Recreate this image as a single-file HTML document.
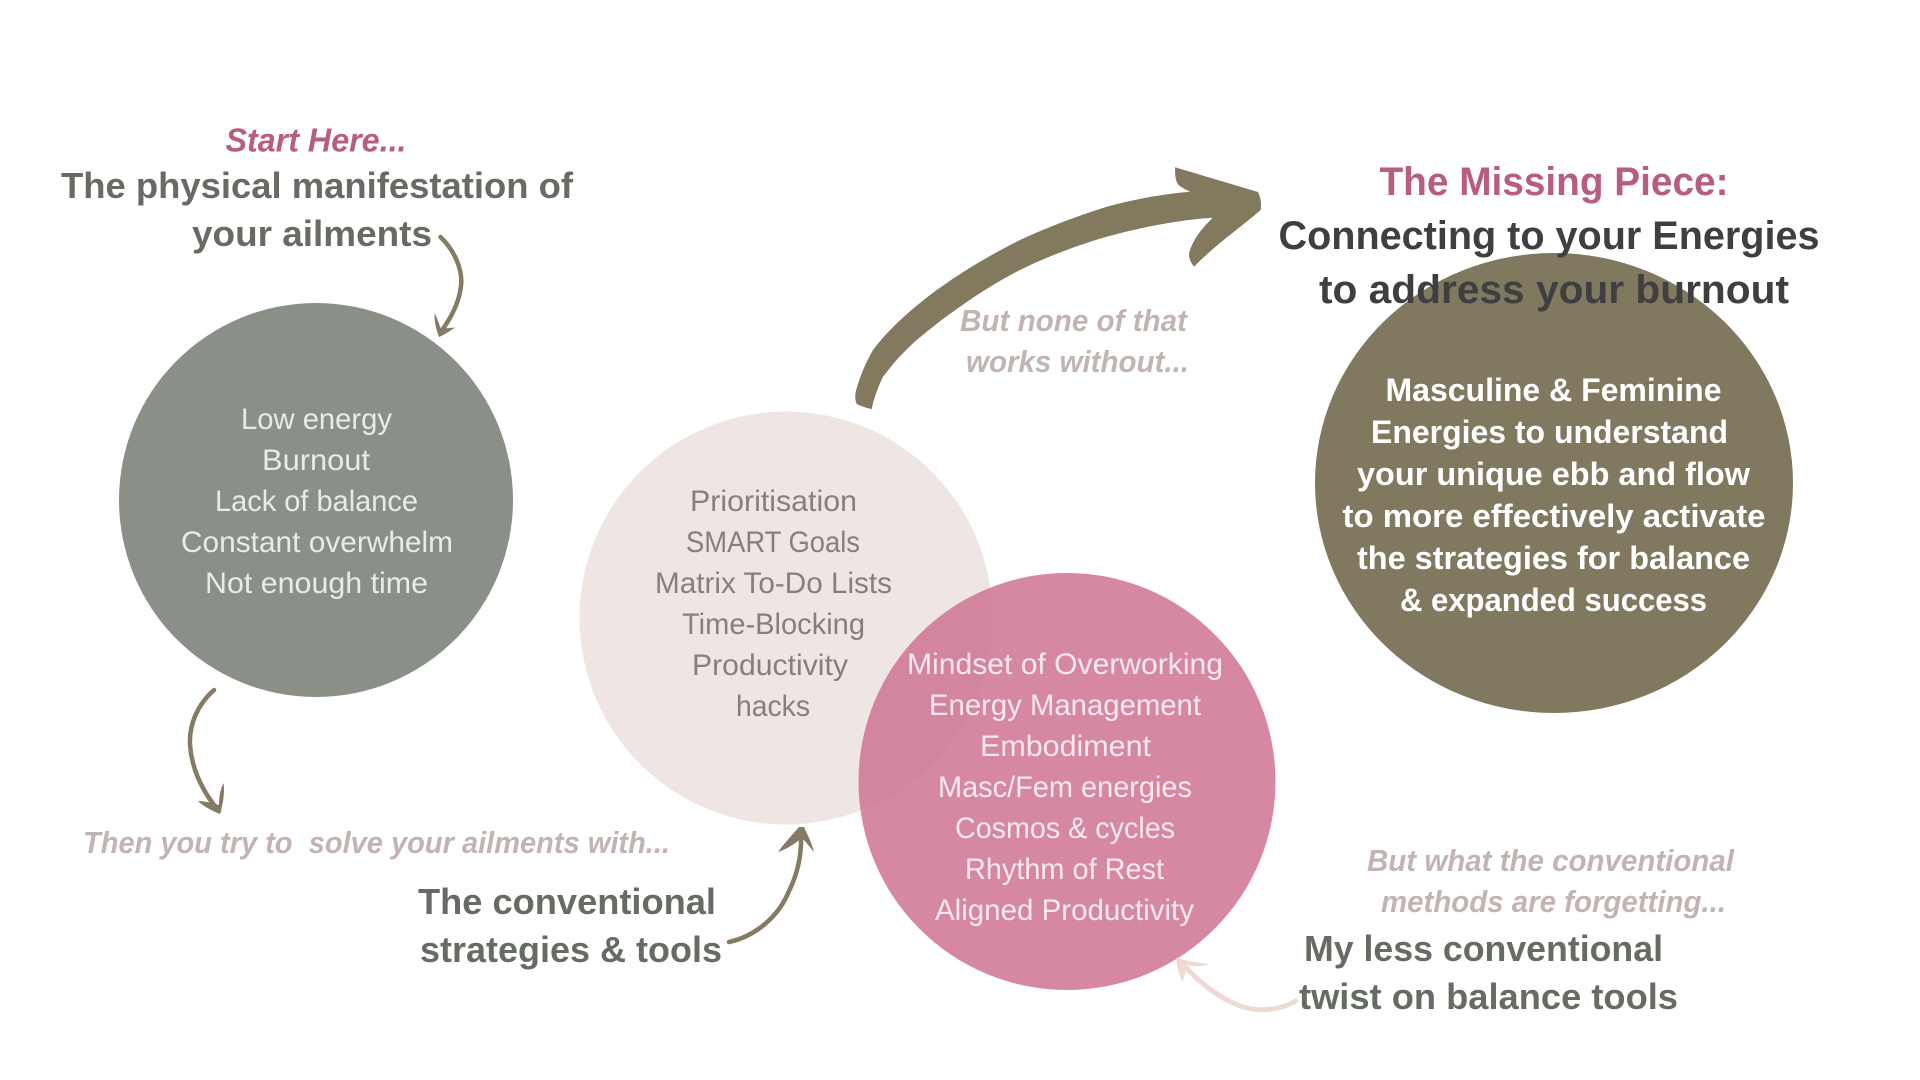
<!DOCTYPE html>
<html><head><meta charset="utf-8"><style>
html,body{margin:0;padding:0;background:#fff;width:1920px;height:1080px;overflow:hidden}
svg{display:block}
text{font-family:"Liberation Sans",sans-serif;text-anchor:start}
.i{font-weight:bold;font-style:italic}
.h{font-size:36px;font-weight:bold;fill:#666c63}
.n{font-size:31px;font-weight:bold;font-style:italic;fill:#c1b4b3}
.w{font-size:30px;fill:#fff;opacity:.82}
.g{font-size:30px;fill:#77726f;opacity:.88}
.m{font-size:32px;font-weight:bold;fill:#fff}
.t{font-size:40px;font-weight:bold;fill:#3f3f3f}
.a{fill:none;stroke:#857b64;stroke-width:4.5;stroke-linecap:round;stroke-linejoin:round}
</style></head><body>
<svg width="1920" height="1080" viewBox="0 0 1920 1080" xmlns="http://www.w3.org/2000/svg">
<rect width="1920" height="1080" fill="#fff"/>
<circle cx="316" cy="500" r="197" fill="#8a8f88"/>
<circle cx="786" cy="618" r="206.5" fill="#efe6e4"/>
<ellipse cx="1554" cy="483" rx="239" ry="230" fill="#817860"/>
<text class="g" x="690" y="511" textLength="167" lengthAdjust="spacingAndGlyphs">Prioritisation</text>
<text class="g" x="686" y="552" textLength="174" lengthAdjust="spacingAndGlyphs">SMART Goals</text>
<text class="g" x="655" y="593" textLength="237" lengthAdjust="spacingAndGlyphs">Matrix To-Do Lists</text>
<text class="g" x="682" y="634" textLength="183" lengthAdjust="spacingAndGlyphs">Time-Blocking</text>
<text class="g" x="692" y="675" textLength="156" lengthAdjust="spacingAndGlyphs">Productivity</text>
<text class="g" x="736" y="716" textLength="74" lengthAdjust="spacingAndGlyphs">hacks</text>
<circle cx="1067" cy="781.5" r="208.5" fill="rgb(206,114,147)" fill-opacity=".85"/>

<!-- big arrow -->
<path fill="#82795f" d="M1175 167.3 L1258 192 C1261 198 1261.5 204 1260.7 210 C1240 228 1215 245 1194 266.7 C1189 260 1188 255 1190 250 C1194 238 1203 227 1212.7 217.7 C1178 220 1142 227 1106.7 236.7 C1078 245 1052 255 1026.7 266.7 C1003 278 981 292 960 306.7 C945 317 931 328 916.7 340 C902 353 892 365 883 376.7 C878 387 874 398 871.7 409 C866 408 861 406 856.7 404 C855 400 855 396 855.7 391.7 C860 376 866 362 873 350 C888 330 908 312 930 295 C958 274 988 256 1020 240 C1048 227 1077 216 1106.7 206.7 C1135 199 1163 194 1190 191.7 C1183 188 1178 186 1176.7 181.7 C1175 177 1175 172 1175 167.3 Z"/>

<!-- small arrows -->
<path class="a" stroke-width="4" d="M440.5 237 C454 250 463 269 461 286 C459 304 449 321 440 333"/>
<path fill="#857b64" d="M434.5 313 C437 318 439 324 441 329 C445 328 451 328 455 327.5 C450 331 444 335 439 337 C436 329 434 320 434.5 313Z"/>
<path class="a" d="M214 690 C197 705 189 725 190 745 C192 772 205 795 219 811"/>
<path fill="#857b64" d="M223.5 783 C220 790 219 798 219 805 C212 803 205 801 198 801 C203 806 212 811 220 814 C223 804 225 792 223.5 783Z"/>
<path class="a" d="M729 942 C756 936 779 916 789 891 C799 871 802 851 801 831"/>
<path fill="#857b64" d="M778 852 C786 841 794 833 799 827 L804 827 C808 836 812 843 814 852 C809 846 805 841 802 838 C796 843 787 849 778 852Z"/>
<path fill="none" stroke="#efd9d5" stroke-width="5" stroke-linecap="round" d="M1296 1001 C1278 1011 1258 1012 1240 1006 C1215 996 1197 980 1181 962"/>
<path fill="#efd9d5" d="M1209.5 964 C1198 963 1187 961 1176.5 957.5 C1176 966 1179 975 1182.5 981.5 C1185 976 1186 970 1185 964 C1192 967 1202 967 1209.5 964Z"/>

<!-- headings -->
<text class="i" font-size="33" fill="#b85d82" x="225.5" y="151.5" textLength="181" lengthAdjust="spacingAndGlyphs">Start Here...</text>
<text class="h" x="61" y="198" textLength="512" lengthAdjust="spacingAndGlyphs">The physical manifestation of</text>
<text class="h" x="192" y="246" textLength="240" lengthAdjust="spacingAndGlyphs">your ailments</text>

<text class="w" x="241" y="429" textLength="151" lengthAdjust="spacingAndGlyphs">Low energy</text>
<text class="w" x="262" y="470" textLength="108" lengthAdjust="spacingAndGlyphs">Burnout</text>
<text class="w" x="215" y="511" textLength="203" lengthAdjust="spacingAndGlyphs">Lack of balance</text>
<text class="w" x="181" y="552" textLength="272" lengthAdjust="spacingAndGlyphs">Constant overwhelm</text>
<text class="w" x="205" y="593" textLength="223" lengthAdjust="spacingAndGlyphs">Not enough time</text>

<text class="w" x="907" y="674" textLength="316" lengthAdjust="spacingAndGlyphs">Mindset of Overworking</text>
<text class="w" x="929" y="715" textLength="272" lengthAdjust="spacingAndGlyphs">Energy Management</text>
<text class="w" x="980" y="756" textLength="171" lengthAdjust="spacingAndGlyphs">Embodiment</text>
<text class="w" x="938" y="797" textLength="254" lengthAdjust="spacingAndGlyphs">Masc/Fem energies</text>
<text class="w" x="955" y="838" textLength="220" lengthAdjust="spacingAndGlyphs">Cosmos &amp; cycles</text>
<text class="w" x="965" y="879" textLength="199" lengthAdjust="spacingAndGlyphs">Rhythm of Rest</text>
<text class="w" x="935" y="920" textLength="259" lengthAdjust="spacingAndGlyphs">Aligned Productivity</text>

<text class="n" x="83" y="853" textLength="587" lengthAdjust="spacingAndGlyphs">Then you try to&#160; solve your ailments with...</text>
<text class="h" x="418" y="914" textLength="298" lengthAdjust="spacingAndGlyphs">The conventional</text>
<text class="h" x="420" y="962" textLength="302" lengthAdjust="spacingAndGlyphs">strategies &amp; tools</text>

<text class="n" x="960" y="331" textLength="227" lengthAdjust="spacingAndGlyphs">But none of that</text>
<text class="n" x="966" y="372" textLength="223" lengthAdjust="spacingAndGlyphs">works without...</text>

<text class="t" style="fill:#b85d82" x="1379.5" y="195" textLength="349" lengthAdjust="spacingAndGlyphs">The Missing Piece:</text>
<text class="t" x="1278.5" y="249" textLength="541" lengthAdjust="spacingAndGlyphs">Connecting to your Energies</text>
<text class="t" x="1319" y="303" textLength="470" lengthAdjust="spacingAndGlyphs">to address your burnout</text>

<text class="m" x="1385.5" y="401" textLength="336" lengthAdjust="spacingAndGlyphs">Masculine &amp; Feminine</text>
<text class="m" x="1371" y="443" textLength="357" lengthAdjust="spacingAndGlyphs">Energies to understand</text>
<text class="m" x="1357" y="485" textLength="393" lengthAdjust="spacingAndGlyphs">your unique ebb and flow</text>
<text class="m" x="1342.5" y="527" textLength="423" lengthAdjust="spacingAndGlyphs">to more effectively activate</text>
<text class="m" x="1357" y="569" textLength="393" lengthAdjust="spacingAndGlyphs">the strategies for balance</text>
<text class="m" x="1400" y="611" textLength="307" lengthAdjust="spacingAndGlyphs">&amp; expanded success</text>

<text class="n" x="1367" y="871" textLength="367" lengthAdjust="spacingAndGlyphs">But what the conventional</text>
<text class="n" x="1381" y="912" textLength="345" lengthAdjust="spacingAndGlyphs">methods are forgetting...</text>
<text class="h" x="1304" y="961" textLength="359" lengthAdjust="spacingAndGlyphs">My less conventional</text>
<text class="h" x="1299" y="1009" textLength="379" lengthAdjust="spacingAndGlyphs">twist on balance tools</text>
</svg>
</body></html>
